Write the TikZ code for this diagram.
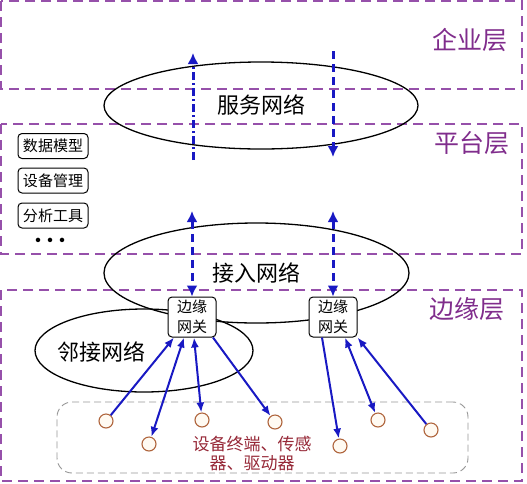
\documentclass[tikz,border=0pt]{standalone}
\usepackage{fontspec}
\setmainfont{Noto Sans CJK SC}
\usetikzlibrary{shapes.geometric,arrows.meta,calc}
\definecolor{layerline}{RGB}{150,80,170}
\definecolor{layertext}{RGB}{128,45,140}
\definecolor{arrowblue}{RGB}{25,25,195}
\definecolor{devcirc}{RGB}{175,100,60}
\definecolor{devfill}{RGB}{255,250,242}
\definecolor{devtextc}{RGB}{150,40,55}
\definecolor{grpgray}{RGB}{150,150,150}
\begin{document}
\begin{tikzpicture}[x=1pt,y=-1pt,
  layer/.style={draw=layerline,line width=1.6pt,dash pattern=on 10pt off 6pt},
  layerlabel/.style={text=layertext,inner sep=0pt,font=\fontsize{25}{28}\selectfont},
  net/.style={draw=black,line width=1.3pt,ellipse,inner sep=0pt,font=\fontsize{22}{24}\selectfont},
  gw/.style={draw=black,line width=1pt,fill=white,rounded corners=4pt,minimum width=48pt,minimum height=40pt,inner sep=0pt,align=center,font=\fontsize{15}{20}\selectfont},
  tool/.style={draw=black,line width=1pt,fill=white,rounded corners=4pt,minimum width=70pt,minimum height=25pt,inner sep=0pt,font=\fontsize{15}{17}\selectfont},
  dev/.style={circle,draw=devcirc,fill=devfill,line width=1.1pt,minimum size=14pt,inner sep=0pt},
  devtext/.style={text=devtextc,align=center,inner sep=0pt,font=\fontsize{17}{19}\selectfont},
  grp/.style={draw=grpgray,line width=0.9pt,dash pattern=on 7pt off 4pt,rounded corners=15pt,minimum width=411pt,minimum height=71pt,inner sep=0pt},
  vdash/.style={draw=arrowblue,line width=3pt,dash pattern=on 8pt off 5pt},
  vdashdot/.style={draw=arrowblue,line width=3pt,dash pattern=on 8pt off 3pt on 2pt off 3pt},
  bighead/.style={arrows={-Latex[length=11pt,width=11pt]}},
  bigboth/.style={arrows={Latex[length=11pt,width=11pt]-Latex[length=11pt,width=11pt]}},
  solidarrow/.style={draw=arrowblue,line width=2pt},
  sh/.style={arrows={-Latex[length=10pt,width=8pt]}},
  sboth/.style={arrows={Latex[length=10pt,width=8pt]-Latex[length=10pt,width=8pt]}}
]
\useasboundingbox (0,0) rectangle (527,483);

% layers
\draw[layer] (1,1) rectangle (522,89);
\draw[layer] (1,124) rectangle (522,254);
\draw[layer] (1,290) rectangle (522,481);
\node[layerlabel] (l1) at (470,40) {企业层};
\node[layerlabel] (l2) at (472,143) {平台层};
\node[layerlabel] (l3) at (467,309) {边缘层};

% networks
\node[net,minimum width=314pt,minimum height=87pt] (svc) at (261,105.5) {服务网络};
\node[net,minimum width=305pt,minimum height=100pt] (acc) at (256.5,273) {接入网络};
\node[net,minimum width=218pt,minimum height=83pt] (nbr) at (144,350.5) {};
\node[inner sep=0pt,font=\fontsize{22}{24}\selectfont] (nbrtext) at (101,352) {邻接网络};

% platform tools
\node[tool] (t1) at (53,146) {数据模型};
\node[tool] (t2) at (53,180.5) {设备管理};
\node[tool] (t3) at (53,215.5) {分析工具};
\node[inner sep=0pt,font=\fontsize{16}{16}\selectfont\bfseries] (dots) at (50,242) {·\hspace{-4pt}·\hspace{-4pt}·};

% device group
\node[grp] (grp) at (262.5,437.5) {};
\node[devtext] (dt) at (252,454) {设备终端、传感\\器、驱动器};

% gateways
\node[gw] (gl) at (192,317) {边缘\\网关};
\node[gw] (gr) at (333,317) {边缘\\网关};

% devices
\node[dev] (d1) at (106,421) {};
\node[dev] (d2) at (149,444) {};
\node[dev] (d3) at (202,420) {};
\node[dev] (d4) at (275,422) {};
\node[dev] (d5) at (340,446) {};
\node[dev] (d6) at (378,420) {};
\node[dev] (d7) at (431,430) {};

% gateway bottom points
\coordinate (gl1) at ($(gl.south)+(-18,0)$);
\coordinate (gl2) at ($(gl.south)+(-8,0)$);
\coordinate (gl3) at ($(gl.south)+(2,0)$);
\coordinate (gl4) at ($(gl.south)+(21,0)$);
\coordinate (gr1) at ($(gr.south)+(-11,0)$);
\coordinate (gr2) at ($(gr.south)+(12,0)$);

% solid arrows
\draw[solidarrow,sh] (d1) -- (gl1);
\draw[solidarrow,sboth] (gl2) -- (d2);
\draw[solidarrow,sboth] (gl3) -- (d3);
\draw[solidarrow,sh] (gl4) -- (d4);
\draw[solidarrow,sh] (gr1) -- (d5);
\draw[solidarrow,sboth] (gr2) -- (d6);
\draw[solidarrow,sh] (d7) -- (gr.south east);

% dashed vertical arrows
\coordinate (ua1) at (193,160);
\coordinate (ua2) at (193,53);
\coordinate (ub1) at (333,51);
\coordinate (ub2) at (333,157);
\coordinate (la) at (192,211);
\coordinate (lb) at (333,211);
\draw[vdashdot,bighead] (ua1) -- (ua2);
\draw[vdash,bighead] (ub1) -- (ub2);
\draw[vdash,bigboth] (la) -- (gl.north);
\draw[vdash,bigboth] (lb) -- (gr.north);
\end{tikzpicture}
\end{document}
